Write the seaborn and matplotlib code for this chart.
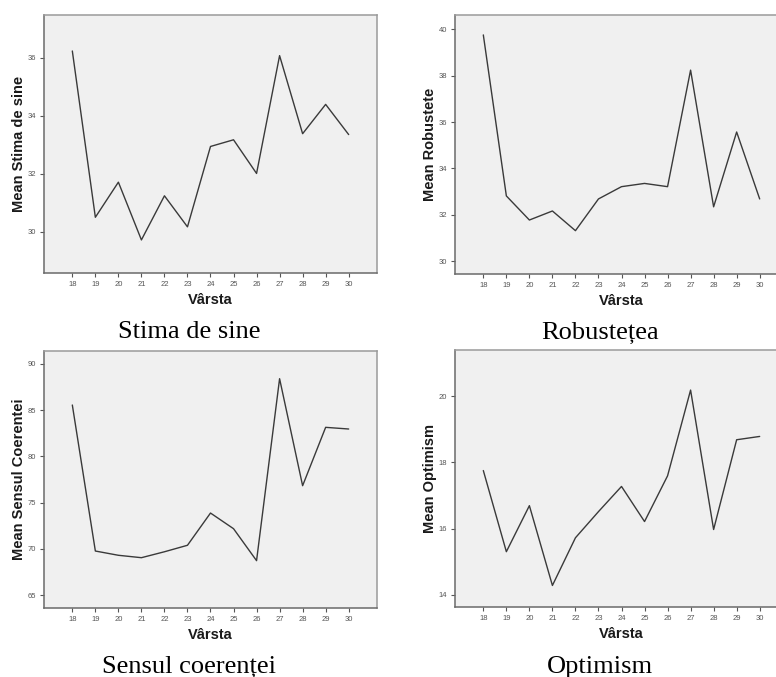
import matplotlib
matplotlib.use("Agg")
import matplotlib.pyplot as plt
import seaborn as sns
import pandas as pd

# Mean scores by age group
ages = [18, 19, 20, 21, 22, 23, 24, 25, 26, 27, 28, 29, 30]
stima_de_sine = [36.23, 30.50, 31.71, 29.72, 31.24, 30.17, 32.94, 33.17, 32.01, 36.07, 33.38, 34.39, 33.35]
robustete = [39.76, 32.81, 31.77, 32.16, 31.31, 32.68, 33.21, 33.35, 33.21, 38.24, 32.34, 35.57, 32.68]
sensul_coerentei = [85.54, 69.78, 69.32, 69.06, 69.70, 70.40, 73.88, 72.19, 68.74, 88.38, 76.83, 83.13, 82.95]
optimism = [17.75, 15.30, 16.69, 14.28, 15.72, 16.51, 17.27, 16.21, 17.59, 20.18, 15.97, 18.68, 18.78]

y_labels = ["Mean Stima de sine", "Mean Robustete", "Mean Sensul Coerentei", "Mean Optimism"]
captions = ["Stima de sine", "Robustețea", "Sensul coerenței", "Optimism"]
x_label = "Vârsta"

sns.set_style("ticks")
plt.rcParams["font.family"] = ["Liberation Sans", "DejaVu Sans"]

W, H = 776, 677
fig = plt.figure(figsize=(W / 100, H / 100), dpi=100)
fig.patch.set_facecolor("white")

# panel boxes in pixels: left, top, right, bottom
boxes = [
    (44, 15, 377, 273),
    (455, 15, 788, 274),
    (44, 351, 377, 608),
    (455, 350, 788, 607),
]
ylims = [(28.58, 37.47), (29.44, 40.62), (63.63, 91.37), (13.63, 21.39)]
yticks = [[30, 32, 34, 36], [30, 32, 34, 36, 38, 40], [65, 70, 75, 80, 85, 90], [14, 16, 18, 20]]
series = [stima_de_sine, robustete, sensul_coerentei, optimism]
caption_pos = [(189, 338.5), (600, 338.5), (189, 673), (600, 673)]

for i in range(4):
    l, t, r, b = boxes[i]
    ax = fig.add_axes([l / W, 1 - b / H, (r - l) / W, (b - t) / H])
    ax.set_facecolor("#f0f0f0")
    df = pd.DataFrame({"age": ages, "value": series[i]})
    sns.lineplot(data=df, x="age", y="value", ax=ax, color="#3a3a3a", linewidth=1.0)
    ax.set_xlim(16.77, 31.23)
    ax.set_ylim(*ylims[i])
    ax.set_xticks(ages)
    ax.set_xticklabels([str(a) for a in ages])
    ax.set_yticks(yticks[i])
    ax.set_yticklabels([str(v) for v in yticks[i]])
    ax.tick_params(axis="both", labelsize=5.5, labelcolor="#555555", color="#555555",
                   length=3, width=0.8, pad=2.5, direction="out")
    for side in ["left", "bottom"]:
        ax.spines[side].set_color("#6a6a6a")
        ax.spines[side].set_linewidth(1.1)
    for side in ["top", "right"]:
        ax.spines[side].set_color("#9a9a9a")
        ax.spines[side].set_linewidth(1.1)
    ax.set_xlabel(x_label, fontsize=10.5, fontweight="bold", color="#1a1a1a", va="center")
    ax.set_ylabel(y_labels[i], fontsize=10.5, fontweight="bold", color="#1a1a1a", va="center")
    ax.xaxis.set_label_coords(0.5, -27 / (b - t))
    ax.yaxis.set_label_coords((18.7 + (0 if l < 100 else 411) - l) / (r - l), 0.5)
    cx, cy = caption_pos[i]
    fig.text(cx / W, 1 - cy / H, captions[i], ha="center", va="baseline",
             fontsize=19, family=["Liberation Serif", "DejaVu Serif"], color="black")

fig.savefig("out.png", dpi=100)
